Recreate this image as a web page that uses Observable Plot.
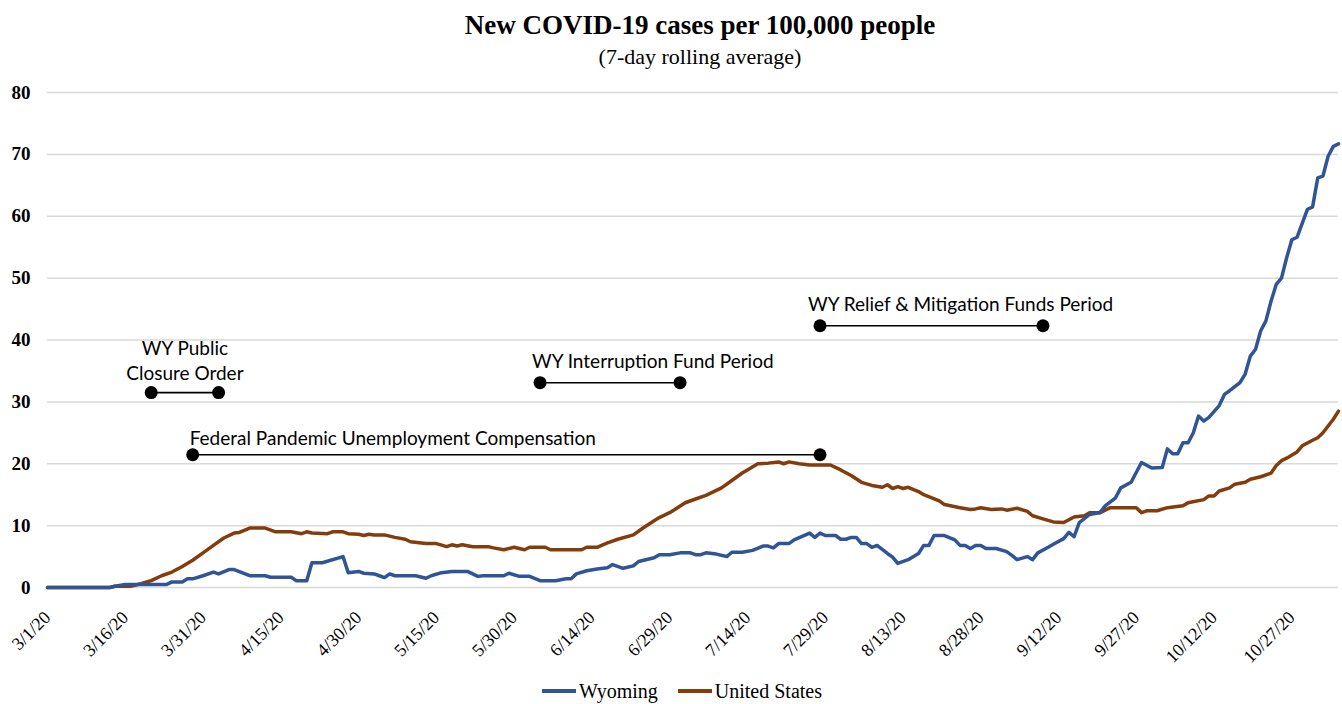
<!DOCTYPE html>
<html><head><meta charset="utf-8">
<script src="https://cdn.jsdelivr.net/npm/d3@7"></script>
<script src="https://cdn.jsdelivr.net/npm/@observablehq/plot@0.6"></script>
<style>
body{margin:0;background:#fff;width:1342px;height:704px;overflow:hidden}
#head{height:80px;text-align:center;font-family:"Liberation Serif",serif;color:#000;padding-left:58px;box-sizing:border-box}
#head .t{padding-top:9px;font-size:27px;font-weight:bold;line-height:32px}
#head .s{margin-top:3px;font-size:22px;line-height:26px}
#chart svg{display:block}
#legend{display:flex;justify-content:center;align-items:center;height:22px;padding-left:42px;margin-top:0px;font-family:"Liberation Serif",serif;font-size:20px;line-height:22px;color:#000}
#legend .sw{display:inline-block;width:34px;height:4px;margin-right:3px}
#legend .item{display:flex;align-items:center;margin-right:20px}
</style></head><body>
<div id="head"><div class="t">New COVID-19 cases per 100,000 people</div><div class="s">(7-day rolling average)</div></div>
<div id="chart"></div>
<div id="legend"></div>
<script>
const startDate = "2020-03-01";
const endDate = "2020-11-05";
const seriesNames = ["Wyoming", "United States"];
const seriesColors = ["#2F5597", "#843C0C"];

// days after 3/1/20 and values (cases per 100k, 7-day avg)
const wyDays = [0,12,13,15,23,24,26,27,28,30,32,33,35,36,39,42,43,47,48,50,51,53,57,58,60,61,63,64,65,66,67,71,73,74,76,78,81,83,84,88,89,91,93,95,98,100,101,102,104,106,108,109,111,113,114,117,118,120,122,124,125,126,127,129,131,132,134,136,138,139,140,141,143,144,147,148,149,150,152,153,154,155,156,157,158,159,160,162,163,164,166,168,169,170,171,173,175,176,177,178,179,180,181,183,185,186,187,189,190,191,193,194,196,197,198,199,201,203,204,206,207,209,211,213,215,216,217,218,219,220,221,222,223,224,226,227,228,230,231,232,233,234,235,236,237,238,239,240,241,243,244,245,246,247,248,249];
const wyValues = [0,0,0.2,0.5,0.5,0.9,0.9,1.4,1.4,1.9,2.5,2.2,2.9,2.9,1.9,1.9,1.65,1.65,1.1,1.1,4.0,4.0,5.0,2.4,2.6,2.3,2.2,1.9,1.6,2.2,1.9,1.9,1.5,1.9,2.4,2.6,2.6,1.8,1.9,1.9,2.3,1.8,1.8,1.1,1.1,1.4,1.4,2.2,2.7,3.0,3.2,3.7,3.1,3.5,4.2,4.8,5.3,5.3,5.6,5.6,5.3,5.3,5.6,5.4,5.0,5.7,5.7,6.0,6.7,6.7,6.4,7.1,7.1,7.7,8.8,8.1,8.8,8.4,8.4,7.8,7.8,8.1,8.1,7.1,7.1,6.5,6.8,5.5,4.9,3.9,4.5,5.5,6.8,6.8,8.4,8.4,7.7,6.8,6.8,6.3,6.8,6.8,6.3,6.3,5.8,5.2,4.5,5.0,4.5,5.6,6.5,7.0,7.9,8.9,8.2,10.5,11.8,12.1,13.2,14.5,16.1,17.0,20.2,19.3,19.4,22.4,21.6,21.6,23.4,23.4,25.0,27.7,26.9,27.5,29.4,31.2,31.8,33.1,34.5,37.4,38.5,41.5,43.1,46.3,49.0,50.0,53.3,56.2,56.6,61.1,61.5,66.2,66.5,69.7,71.3,71.7];
const usDays = [0,12,13,16,18,20,22,24,26,28,30,32,34,36,37,39,42,44,47,49,50,51,54,55,57,58,60,61,62,63,65,67,69,70,73,75,77,78,79,80,82,85,86,88,90,92,93,96,97,103,104,106,108,110,113,115,117,118,120,121,123,125,127,130,132,134,135,137,139,141,142,143,145,147,151,153,155,157,159,161,162,163,164,165,166,168,169,172,173,176,178,179,180,182,184,185,187,189,190,192,194,196,198,200,201,203,205,210,211,212,214,216,219,220,223,224,225,226,228,229,231,232,234,236,237,238,239,241,242,244,245,246,247,248,249];
const usValues = [0,0,0.2,0.2,0.6,1.1,1.9,2.5,3.4,4.4,5.6,6.8,8.0,8.8,8.9,9.6,9.6,9.0,9.0,8.7,9.0,8.8,8.7,9.0,9.0,8.7,8.6,8.4,8.6,8.5,8.5,8.1,7.8,7.4,7.1,7.1,6.6,6.9,6.7,6.9,6.6,6.6,6.4,6.1,6.5,6.1,6.5,6.5,6.1,6.1,6.5,6.5,7.2,7.8,8.5,9.7,10.8,11.3,12.1,12.6,13.7,14.3,14.9,16.1,17.3,18.5,19.0,20.0,20.1,20.3,20.0,20.3,20.0,19.8,19.8,19.0,18.1,17.0,16.5,16.2,16.6,16.0,16.3,16.0,16.2,15.5,15.0,14.0,13.4,12.9,12.6,12.7,12.9,12.6,12.7,12.5,12.8,12.3,11.6,11.1,10.6,10.5,11.4,11.6,12.1,12.1,12.9,12.9,12.1,12.4,12.4,12.9,13.2,13.7,14.2,14.8,14.8,15.6,16.1,16.7,17.0,17.5,17.9,18.5,19.7,20.5,20.9,21.9,22.9,23.8,24.2,25.0,26.1,27.2,28.5];

const xTickDates = ["2020-03-01","2020-03-16","2020-03-31","2020-04-15","2020-04-30","2020-05-15","2020-05-30","2020-06-14","2020-06-29","2020-07-14","2020-07-29","2020-08-13","2020-08-28","2020-09-12","2020-09-27","2020-10-12","2020-10-27"];
const yTicks = [0,10,20,30,40,50,60,70,80];

const periodLabels = ["WY Public\nClosure Order","Federal Pandemic Unemployment Compensation","WY Interruption Fund Period","WY Relief & Mitigation Funds Period"];
const periodStarts = ["2020-03-21","2020-03-29","2020-06-04","2020-07-28"];
const periodEnds = ["2020-04-03","2020-07-28","2020-07-01","2020-09-09"];
const periodLevels = [31.5,21.45,33.1,42.3];

const t0 = new Date(startDate);
const toDate = d => new Date(t0.getTime() + d * 864e5);
const wy = wyDays.map((d, i) => ({date: toDate(d), value: wyValues[i]}));
const us = usDays.map((d, i) => ({date: toDate(d), value: usValues[i]}));
const periods = periodLabels.map((label, i) => ({label, start: new Date(periodStarts[i]), end: new Date(periodEnds[i]), y: periodLevels[i]}));
const endpoints = periods.flatMap(p => [{x: p.start, y: p.y}, {x: p.end, y: p.y}]);
const annFont = "Lato, 'Open Sans', sans-serif";

const chart = Plot.plot({
  width: 1342,
  height: 600,
  marginLeft: 47,
  marginRight: 4,
  marginTop: 12,
  marginBottom: 93,
  x: {type: "utc", domain: [new Date(startDate), new Date(endDate)]},
  y: {domain: [0, 80]},
  style: {fontFamily: "'Liberation Serif', serif", color: "#000", background: "#fff"},
  marks: [
    Plot.ruleY(yTicks, {stroke: "#d9d9d9", strokeWidth: 1.5}),
    Plot.axisY(yTicks, {tickSize: 0, tickPadding: 17, fontSize: 19, fontWeight: "bold", label: null}),
    Plot.axisX(xTickDates.map(d => new Date(d)), {tickSize: 0, tickPadding: 27, tickRotate: -45, fontSize: 18, label: null, tickFormat: d3.utcFormat("%-m/%-d/%y")}),
    Plot.line(us, {x: "date", y: "value", stroke: seriesColors[1], strokeWidth: 3.5, strokeLinejoin: "round"}),
    Plot.line(wy, {x: "date", y: "value", stroke: seriesColors[0], strokeWidth: 3.5, strokeLinejoin: "round"}),
    Plot.link(periods, {x1: "start", x2: "end", y1: "y", y2: "y", stroke: "#000", strokeWidth: 1.6}),
    Plot.dot(endpoints, {x: "x", y: "y", r: 6.5, fill: "#000"}),
    Plot.text(periods.slice(0, 1), {x: p => new Date((p.start.getTime() + p.end.getTime()) / 2), y: "y", text: "label", textAnchor: "middle", lineAnchor: "bottom", lineHeight: 1.3, dy: -13, fontSize: 19, fontFamily: annFont}),
    Plot.text(periods.slice(1, 2), {x: "start", y: "y", text: "label", textAnchor: "start", lineAnchor: "bottom", dx: -3, dy: -10, fontSize: 19, fontFamily: annFont}),
    Plot.text(periods.slice(2, 3), {x: "start", y: "y", text: "label", textAnchor: "start", lineAnchor: "bottom", dx: -8, dy: -15, fontSize: 19, fontFamily: annFont}),
    Plot.text(periods.slice(3, 4), {x: "start", y: "y", text: "label", textAnchor: "start", lineAnchor: "bottom", dx: -12, dy: -15, fontSize: 19, fontFamily: annFont})
  ]
});
document.getElementById("chart").append(chart);

const legend = document.getElementById("legend");
seriesNames.forEach((name, i) => {
  const item = document.createElement("span");
  item.className = "item";
  const sw = document.createElement("span");
  sw.className = "sw";
  sw.style.background = seriesColors[i];
  item.append(sw, document.createTextNode(name));
  legend.append(item);
});
</script>
</body></html>
